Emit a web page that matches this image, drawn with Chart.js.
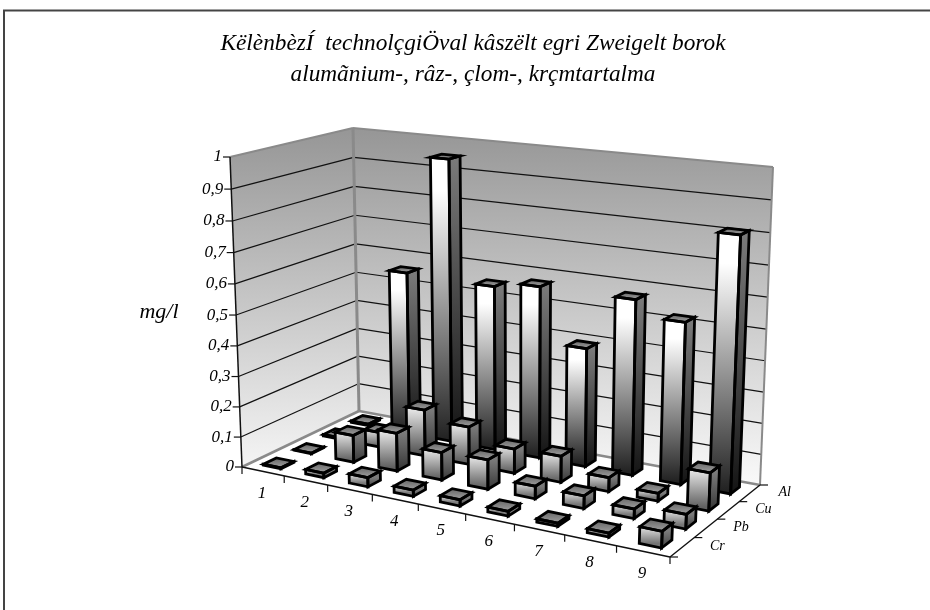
<!DOCTYPE html>
<html>
<head>
<meta charset="utf-8">
<style>
    body { margin: 0; background: #fff; }
    canvas { display: block; }
</style>
<script src="https://cdn.jsdelivr.net/npm/chart.js@4"></script>
</head>
<body>
<canvas id="wine-chart" width="930" height="610"></canvas>
<script>
const categories = ['1', '2', '3', '4', '5', '6', '7', '8', '9'];
const metals = ['Cr', 'Pb', 'Cu', 'Al'];

const crValues = [0.003, 0.015, 0.03, 0.02, 0.02, 0.015, 0.01, 0.012, 0.05];
const pbValues = [0.002, 0.09, 0.125, 0.09, 0.095, 0.04, 0.04, 0.03, 0.045];
const cuValues = [0.005, 0.05, 0.155, 0.125, 0.08, 0.085, 0.045, 0.025, 0.12];
const alValues = [0.005, 0.555, 0.95, 0.55, 0.57, 0.39, 0.57, 0.52, 0.81];

const yTicks = [0, 0.1, 0.2, 0.3, 0.4, 0.5, 0.6, 0.7, 0.8, 0.9, 1];
const yTickLabels = ['0', '0,1', '0,2', '0,3', '0,4', '0,5', '0,6', '0,7', '0,8', '0,9', '1'];

const titleLines = ['KëlènbèzÍ  technolçgiÖval kâszëlt egri Zweigelt borok', 'alumãnium-, râz-, çlom-, krçmtartalma'];

// corners of the box on screen: front-left, front-right, back-right, back-left
const floorQuad = [[242, 467], [670, 557], [760, 485], [359, 411]];
const topQuad = [[230, 157], [684, 206], [773, 167], [353, 128]];
const barFraction = 0.42;

function makeHomography(q) {
    const dx1 = q[1][0] - q[2][0], dx2 = q[3][0] - q[2][0], sx = q[0][0] - q[1][0] + q[2][0] - q[3][0];
    const dy1 = q[1][1] - q[2][1], dy2 = q[3][1] - q[2][1], sy = q[0][1] - q[1][1] + q[2][1] - q[3][1];
    const det = dx1 * dy2 - dx2 * dy1;
    const g = (sx * dy2 - dx2 * sy) / det;
    const h = (dx1 * sy - sx * dy1) / det;
    const a = q[1][0] - q[0][0] + g * q[1][0];
    const b = q[3][0] - q[0][0] + h * q[3][0];
    const d = q[1][1] - q[0][1] + g * q[1][1];
    const e = q[3][1] - q[0][1] + h * q[3][1];
    return (u, v) => {
        const w = g * u + h * v + 1;
        return [(a * u + b * v + q[0][0]) / w, (d * u + e * v + q[0][1]) / w];
    };
}

const floorMap = makeHomography(floorQuad);
const topMap = makeHomography(topQuad);

function project(u, d, v) {
    const f = floorMap(u, d);
    const t = topMap(u, d);
    // slight perspective on the height as well
    const k = v / (1 + 0.04 * (1 - v));
    return [f[0] + (t[0] - f[0]) * k, f[1] + (t[1] - f[1]) * k];
}

function poly(ctx, pts, fill, stroke, lineWidth) {
    ctx.beginPath();
    pts.forEach((p, i) => i ? ctx.lineTo(p[0], p[1]) : ctx.moveTo(p[0], p[1]));
    ctx.closePath();
    if (fill) {
        ctx.fillStyle = fill;
        ctx.fill();
    }
    if (stroke) {
        ctx.strokeStyle = stroke;
        ctx.lineWidth = lineWidth;
        ctx.lineJoin = 'miter';
        ctx.stroke();
    }
}

function line(ctx, a, b, color, width) {
    ctx.beginPath();
    ctx.moveTo(a[0], a[1]);
    ctx.lineTo(b[0], b[1]);
    ctx.strokeStyle = color;
    ctx.lineWidth = width;
    ctx.stroke();
}

function grey(n) {
    const c = Math.round(n);
    return `rgb(${c},${c},${c})`;
}

function drawWalls(ctx, scales) {
    const yv = val => (scales.y.bottom - scales.y.getPixelForValue(val)) / scales.y.height;
    const wall = ctx.createLinearGradient(0, 125, 0, 490);
    wall.addColorStop(0, '#959595');
    wall.addColorStop(1, '#fbfbfb');

    poly(ctx, [project(0, 0, 0), project(0, 1, 0), project(0, 1, 1), project(0, 0, 1)], wall);
    poly(ctx, [project(0, 1, 0), project(1, 1, 0), project(1, 1, 1), project(0, 1, 1)], wall);

    yTicks.forEach((t, i) => {
        const v = yv(t);
        if (t > 0 && t < 1) {
            line(ctx, project(0, 0, v), project(0, 1, v), '#111', 1.2);
            line(ctx, project(0, 1, v), project(1, 1, v), '#111', 1.2);
        }
        const p = project(0, 0, v);
        line(ctx, p, [p[0] - 7, p[1]], '#111', 1.2);
        ctx.fillStyle = '#000';
        ctx.font = 'italic 17px "Liberation Serif"';
        ctx.textAlign = 'right';
        ctx.textBaseline = 'middle';
        ctx.fillText(yTickLabels[i], p[0] - 8, p[1]);
    });

    // grey edges of the walls
    line(ctx, project(0, 0, 1), project(0, 1, 1), '#8a8a8a', 2);
    line(ctx, project(0, 1, 1), project(1, 1, 1), '#8a8a8a', 2);
    line(ctx, project(1, 1, 1), project(1, 1, 0), '#8a8a8a', 2);
    line(ctx, project(0, 1, 1), project(0, 1, 0), '#8a8a8a', 3);
    line(ctx, project(0, 0, 0), project(0, 1, 0), '#8a8a8a', 2.5);
    line(ctx, project(0, 1, 0), project(1, 1, 0), '#8a8a8a', 2.5);

    line(ctx, project(0, 0, 0), project(0, 0, 1), '#111', 1.5);
}

function drawAxes(ctx, scales) {
    line(ctx, project(0, 0, 0), project(1, 0, 0), '#111', 1.5);
    line(ctx, project(1, 0, 0), project(1, 1, 0), '#111', 1.5);

    ctx.fillStyle = '#000';
    ctx.textAlign = 'center';
    ctx.textBaseline = 'middle';
    ctx.font = 'italic 17px "Liberation Serif"';
    categories.forEach((c, i) => {
        const tickPos = project((i + 1) / categories.length, 0, 0);
        line(ctx, tickPos, [tickPos[0], tickPos[1] + 7], '#111', 1.2);
        const u = (scales.x.getPixelForValue(i) - scales.x.left) / scales.x.width;
        const p = project(u, 0, 0);
        ctx.fillText(c, p[0] - 1, p[1] + 22);
    });
    const first = project(0, 0, 0);
    line(ctx, first, [first[0], first[1] + 7], '#111', 1.2);

    ctx.font = 'italic 14px "Liberation Serif"';
    metals.forEach((m, j) => {
        const tickPos = project(1, (j + 1) / metals.length, 0);
        line(ctx, tickPos, [tickPos[0] + 8, tickPos[1]], '#111', 1.2);
        const d = (scales.depth.bottom - scales.depth.getPixelForValue(j)) / scales.depth.height;
        const p = project(1, d, 0);
        ctx.fillText(m, p[0] + 35, p[1] - 1);
    });
    const corner = project(1, 0, 0);
    line(ctx, corner, [corner[0] + 8, corner[1]], '#111', 1.2);

    ctx.font = 'italic 22px "Liberation Serif"';
    ctx.fillText('mg/l', 159, 312);
}

function drawBar(ctx, u, d, v, halfU, halfD) {
    const u0 = u - halfU, u1 = u + halfU, d0 = d - halfD, d1 = d + halfD;
    const fl = project(u0, d0, 0), fr = project(u1, d0, 0), br = project(u1, d1, 0);
    const tfl = project(u0, d0, v), tfr = project(u1, d0, v), tbr = project(u1, d1, v), tbl = project(u0, d1, v);

    // taller bars run darker towards the floor
    const low = Math.min(1, v / 0.35);
    const front = ctx.createLinearGradient(0, tfl[1], 0, fl[1]);
    front.addColorStop(0, grey(225 + 30 * low));
    if (low > 0.6) front.addColorStop(0.12, '#fff');
    front.addColorStop(1, grey(130 - 95 * low));
    const side = ctx.createLinearGradient(0, tfr[1], 0, fr[1]);
    side.addColorStop(0, '#7a7a7a');
    side.addColorStop(1, grey(70 - 50 * low));
    const topFace = ctx.createLinearGradient(0, tbl[1], 0, tfr[1]);
    topFace.addColorStop(0, '#666');
    topFace.addColorStop(1, '#a0a0a0');

    poly(ctx, [fl, fr, tfr, tfl], front);
    poly(ctx, [fr, br, tbr, tfr], side);
    poly(ctx, [tfl, tfr, tbr, tbl], topFace);

    const w = 2.8;
    poly(ctx, [fl, fr, tfr, tfl], null, '#000', w);
    poly(ctx, [fr, br, tbr, tfr], null, '#000', w);
    poly(ctx, [tfl, tfr, tbr, tbl], null, '#000', w);
}

const box3d = {
    id: 'box3d',
    beforeDatasetsDraw(chart) {
        const ctx = chart.ctx;
        const s = chart.scales;
        ctx.save();
        line(ctx, [3, 10.5], [930, 10.5], '#444', 2);
        line(ctx, [4, 10], [4, 610], '#444', 2);
        drawWalls(ctx, s);
        drawAxes(ctx, s);
        ctx.restore();
    },
    afterDatasetsDraw(chart) {
        const ctx = chart.ctx;
        const s = chart.scales;
        const halfU = barFraction / categories.length / 2;
        const halfD = barFraction / metals.length / 2;
        ctx.save();
        // back row first, left to right so nearer bars paint over
        for (let j = metals.length - 1; j >= 0; j--) {
            const dataset = chart.data.datasets[j];
            const d = (s.depth.bottom - s.depth.getPixelForValue(j)) / s.depth.height;
            dataset.data.forEach((val, i) => {
                const u = (s.x.getPixelForValue(i) - s.x.left) / s.x.width;
                const v = (s.y.bottom - s.y.getPixelForValue(val)) / s.y.height;
                drawBar(ctx, u, d, v, halfU, halfD);
            });
        }
        ctx.restore();
    }
};

window.onload = function () {
    const ctx = document.getElementById('wine-chart').getContext('2d');
    new Chart(ctx, {
        type: 'bar',
        data: {
            labels: categories,
            datasets: [
                { label: 'Cr', data: crValues, backgroundColor: 'transparent' },
                { label: 'Pb', data: pbValues, backgroundColor: 'transparent' },
                { label: 'Cu', data: cuValues, backgroundColor: 'transparent' },
                { label: 'Al', data: alValues, backgroundColor: 'transparent' }
            ]
        },
        options: {
            responsive: false,
            animation: false,
            events: [],
            layout: { padding: { left: 16 } },
            plugins: {
                legend: { display: false },
                tooltip: { enabled: false },
                title: {
                    display: true,
                    text: titleLines,
                    color: '#000',
                    font: { family: '"Liberation Serif"', size: 23.3, style: 'italic', weight: 'normal', lineHeight: 1.3 },
                    padding: { top: 29, bottom: 10 }
                }
            },
            scales: {
                x: { display: false, offset: true },
                y: { display: false, min: 0, max: 1 },
                depth: { type: 'category', axis: 'y', labels: metals, reverse: true, display: false, offset: true, position: 'right' }
            }
        },
        plugins: [box3d]
    });
};
</script>
</body>
</html>
